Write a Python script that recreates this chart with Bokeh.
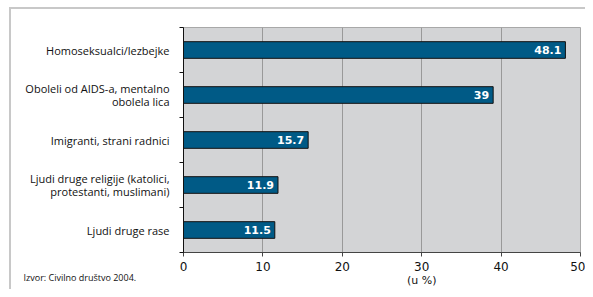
from bokeh.plotting import figure
from bokeh.models import Range1d, FixedTicker, ColumnDataSource, LinearAxis, Title
from bokeh.core.properties import value
from bokeh.embed import file_html
from bokeh.resources import INLINE

categories = [
    "Homoseksualci/lezbejke",
    "Oboleli od AIDS-a, mentalno\nobolela lica",
    "Imigranti, strani radnici",
    "Ljudi druge religije (katolici,\nprotestanti, muslimani)",
    "Ljudi druge rase",
]
values = [48.1, 39, 15.7, 11.9, 11.5]
value_labels = ["48.1", "39", "15.7", "11.9", "11.5"]
x_ticks = [0, 10, 20, 30, 40, 50]
source_text = "Izvor:  Civilno društvo 2004."
unit_text = "(u %)"
unit_at = 30

pos = list(range(1, len(categories) + 1))
src = ColumnDataSource(dict(y=pos, v=values, lab=value_labels))

p = figure(width=585, height=289, output_backend="svg", toolbar_location=None,
           x_range=Range1d(0, 50), y_range=Range1d(len(categories) + 0.5, 0.5),
           min_border_left=183, min_border_top=27, min_border_right=5,
           min_border_bottom=35)
p.styles = {
    "background-color": "white",
    "background-image": "linear-gradient(#c8c8c8, #c8c8c8), linear-gradient(#c8c8c8, #c8c8c8)",
    "background-size": "2px 100%, 100% 2px",
    "background-position": "9px 7px, 9px 7px",
    "background-repeat": "no-repeat",
}
p.background_fill_color = "#D3D4D6"
p.border_fill_color = None
p.outline_line_color = "#a8a8a8"

p.hbar(y="y", right="v", left=0, height=0.37, source=src,
       fill_color="#005A86", line_color="#111111", line_width=1)
p.text(x="v", y="y", text="lab", source=src, x_offset=-4,
       text_align="right", text_baseline="middle", text_color="white",
       text_font=value("DejaVu Sans"), text_font_style="bold",
       text_font_size="11px")

# x axis
p.xaxis.ticker = FixedTicker(ticks=x_ticks)
p.xaxis.major_tick_out = 4
p.xaxis.major_tick_in = 0
p.xaxis.minor_tick_line_color = None
p.xaxis.axis_line_color = "#444444"
p.xaxis.major_tick_line_color = "#444444"
p.xaxis.major_label_text_font = "DejaVu Sans"
p.xaxis.major_label_text_font_size = "12px"
p.xaxis.major_label_text_color = "#111111"
p.xaxis.major_label_standoff = 5

# y axis
p.yaxis.ticker = FixedTicker(ticks=pos, minor_ticks=[i + 0.5 for i in range(len(categories) + 1)])
p.yaxis.major_label_overrides = {i: c for i, c in zip(pos, categories)}
p.yaxis.major_tick_line_color = None
p.yaxis.major_tick_out = 0
p.yaxis.major_tick_in = 0
p.yaxis.minor_tick_out = 4
p.yaxis.minor_tick_in = 0
p.yaxis.minor_tick_line_color = "#111111"
p.yaxis.axis_line_color = "#111111"
p.yaxis.major_label_standoff = 10
p.yaxis.major_label_text_font = "Open Sans"
p.yaxis.major_label_text_font_size = "11px"
p.yaxis.major_label_text_line_height = 0.9
p.yaxis.major_label_text_color = "#111111"

p.xgrid.ticker = FixedTicker(ticks=x_ticks)
p.xgrid.grid_line_color = "#999999"
p.ygrid.grid_line_color = None

# source note
p.add_layout(Title(text=source_text, align="left", offset=-160, standoff=-9,
                   text_font="Open Sans", text_font_size="9px",
                   text_font_style="normal", text_color="#111111"), "below")

# unit note under the 30 tick
unit_axis = LinearAxis(ticker=FixedTicker(ticks=[unit_at]),
                       major_label_overrides={unit_at: unit_text},
                       axis_line_color=None, major_tick_line_color=None,
                       minor_tick_line_color=None, major_tick_out=0, major_tick_in=0,
                       major_label_standoff=-6,
                       major_label_text_font="DejaVu Sans",
                       major_label_text_font_size="11px",
                       major_label_text_color="#111111")
p.add_layout(unit_axis, "below")

open("out.html", "w").write(file_html(p, INLINE))
